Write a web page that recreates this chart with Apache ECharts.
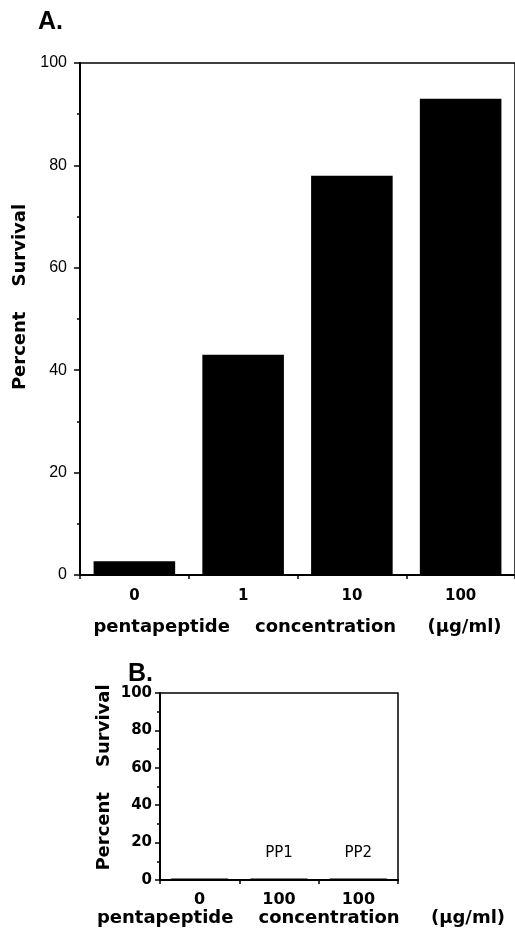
<!DOCTYPE html>
<html>
<head>
<meta charset="utf-8">
<script src="https://cdn.jsdelivr.net/npm/echarts@6/dist/echarts.min.js"></script>
<style>
  html, body { margin: 0; padding: 0; background: #fff; }
  #chart { width: 515px; height: 928px; }
</style>
</head>
<body>
<div id="chart"></div>
<script>
// panel A: survival vs pentapeptide concentration
const catsA = ['0', '1', '10', '100'];
const valsA = [2.7, 43, 78, 93];
// panel B: controls
const catsB = ['0', '100', '100'];
const valsB = [0.8, 0.8, 0.8];
const tagsB = ['', 'PP1', 'PP2'];
const yTicks = [0, 20, 40, 60, 80, 100];

const xName = 'pentapeptide    concentration     (\u00b5g/ml)';
const yName = 'Percent    Survival';
const nameFont = { fontFamily: 'DejaVu Sans', fontWeight: 'bold', fontSize: 18, color: '#000' };

const chart = echarts.init(document.getElementById('chart'));

// 坐标轴公共样式
const axisLine = { show: true, lineStyle: { color: '#000', width: 2 } };

chart.setOption({
  animation: false,
  backgroundColor: '#fff',
  title: [
    { text: 'A.', left: 33, top: 5, textStyle: { fontFamily: 'Liberation Sans', fontWeight: 'bold', fontSize: 25, color: '#000' } },
    { text: 'B.', left: 123, top: 657, textStyle: { fontFamily: 'Liberation Sans', fontWeight: 'bold', fontSize: 25, color: '#000' } }
  ],
  grid: [
    { left: 80, top: 63, width: 444, height: 512, show: true, borderColor: '#000', borderWidth: 1.5 },
    { left: 160, top: 693, width: 238, height: 187, show: true, borderColor: '#000', borderWidth: 1.5 }
  ],
  xAxis: [
    {
      gridIndex: 0, type: 'category', data: catsA,
      axisLine: axisLine,
      axisTick: { show: true, length: 4, lineStyle: { color: '#000', width: 1.5 } },
      axisLabel: { margin: 14, fontFamily: 'DejaVu Sans', fontWeight: 'bold', fontSize: 15, color: '#000' },
      name: xName, nameLocation: 'middle', nameGap: 43, nameTextStyle: nameFont
    },
    {
      gridIndex: 1, type: 'category', data: catsB,
      axisLine: axisLine,
      axisTick: { show: true, length: 4, lineStyle: { color: '#000', width: 1.5 } },
      axisLabel: { margin: 12, fontFamily: 'DejaVu Sans', fontWeight: 'bold', fontSize: 16, color: '#000' },
      name: xName, nameLocation: 'middle', nameGap: 29,
      nameTextStyle: Object.assign({ padding: [0, 0, 0, 44] }, nameFont)
    }
  ],
  yAxis: [
    {
      gridIndex: 0, type: 'value', min: 0, max: 100, interval: 20,
      axisLine: axisLine,
      axisTick: { show: true, length: 6, lineStyle: { color: '#000', width: 1.5 } },
      minorTick: { show: true, splitNumber: 2, length: 3, lineStyle: { color: '#000', width: 1.5 } },
      splitLine: { show: false },
      axisLabel: {
        margin: 13, fontFamily: 'Liberation Sans', fontSize: 16, color: '#000',
        formatter: v => yTicks.includes(v) ? String(v) : ''
      },
      name: yName, nameLocation: 'middle', nameGap: 48,
      nameTextStyle: Object.assign({ padding: [0, 0, 0, 44] }, nameFont)
    },
    {
      gridIndex: 1, type: 'value', min: 0, max: 100, interval: 20,
      axisLine: axisLine,
      axisTick: { show: true, length: 5, lineStyle: { color: '#000', width: 1.5 } },
      minorTick: { show: true, splitNumber: 2, length: 3, lineStyle: { color: '#000', width: 1.5 } },
      splitLine: { show: false },
      axisLabel: { margin: 8, fontFamily: 'DejaVu Sans', fontWeight: 'bold', fontSize: 15, color: '#000' },
      name: yName, nameLocation: 'middle', nameGap: 47,
      nameTextStyle: Object.assign({ padding: [0, 0, 0, 18] }, nameFont)
    }
  ],
  series: [
    {
      type: 'bar', xAxisIndex: 0, yAxisIndex: 0, data: valsA,
      barCategoryGap: '25%',
      itemStyle: { color: '#000' }
    },
    {
      type: 'bar', xAxisIndex: 1, yAxisIndex: 1, data: valsB,
      barCategoryGap: '28%',
      itemStyle: { color: '#000' },
      label: {
        show: true, position: 'top', distance: 18,
        fontFamily: 'DejaVu Sans', fontSize: 15, color: '#000',
        formatter: p => tagsB[p.dataIndex]
      }
    }
  ]
});
</script>
</body>
</html>
